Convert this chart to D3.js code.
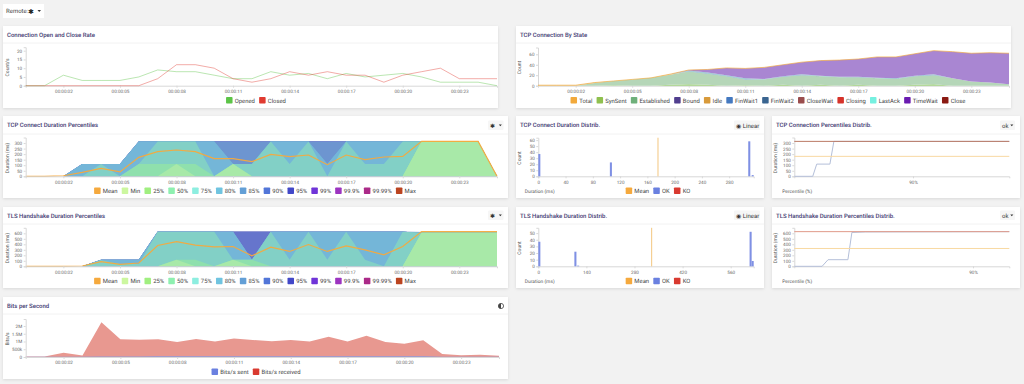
<!DOCTYPE html>
<html>
<head>
<meta charset="utf-8">
<script src="https://cdnjs.cloudflare.com/ajax/libs/d3/7.8.5/d3.min.js"></script>
<style>
html, body { margin: 0; padding: 0; background: #f2f2f2; overflow: hidden; }
text { font-family: Roboto, "Noto Sans", sans-serif; text-rendering: geometricPrecision; }
</style>
</head>
<body>
<svg id="chart" width="1024" height="384"></svg>
<script>
// time axis
const seconds = d3.range(0, 26);
const timeTicks = [2, 5, 8, 11, 14, 17, 20, 23];
const timeLabels = ['00:00:02', '00:00:05', '00:00:08', '00:00:11', '00:00:14', '00:00:17', '00:00:20', '00:00:23'];

// connection rate
const opened = [0, 0, 6, 3, 3, 3, 5, 9, 8, 8, 6, 4, 4, 8, 6, 7, 4, 7, 5, 6, 7, 5, 2, 2, 2, 0];
const closed = [0, 0, 0, 0, 0, 0, 0, 4, 12, 12, 10, 4, 2, 4, 8, 6, 8, 6, 6, 2, 6, 8, 10, 4, 4, 4];

// tcp states
const stateNames = ['Total', 'SynSent', 'Established', 'Bound', 'Idle', 'FinWait1', 'FinWait2', 'CloseWait', 'Closing', 'LastAck', 'TimeWait', 'Close'];
const stateColors = ['#f2a93b', '#8fc04f', '#6fb07a', '#503e8e', '#d89a3a', '#4479c0', '#3a6590', '#9a4d4d', '#d6332a', '#76f0e0', '#6a1bb0', '#8a1a12'];
const stTotal = [1, 1, 1, 6, 9, 12, 15, 22, 30, 31, 34, 33, 35, 40, 45, 48, 49, 51, 55, 55, 61, 67, 65, 62, 63, 62];
const stSynSent = [0, 0, 0, 0, 1, 0, 0, 2, 3, 2, 0, 1, 0, 2, 0, 2, 0, 2, 0, 0, 2, 3, 0, 0, 0, 0];
const stEstablished = [0, 0, 0, 5, 8, 12, 15, 19, 24, 21, 18, 11, 12, 15, 20, 16, 16, 14, 14, 13, 16, 17, 14, 8, 6, 3];
const stIdle = [1, 1, 1, 1, 0, 0, 0, 1, 0, 0, 0, 0, 0, 0, 0, 0, 0, 0, 0, 0, 0, 0, 0, 0, 0, 0];
const stFinWait1 = [0, 0, 0, 0, 0, 0, 0, 0, 1, 1, 1, 1, 0, 1, 1, 0, 0, 1, 0, 0, 1, 1, 0, 0, 0, 0];
const stLastAck = [0, 0, 0, 0, 0, 0, 0, 0, 1, 1, 1, 1, 1, 0, 1, 1, 1, 0, 1, 1, 0, 1, 0, 0, 0, 0];
const stTimeWait = [0, 0, 0, 0, 0, 0, 0, 0, 1, 6, 14, 19, 22, 22, 23, 29, 32, 34, 40, 41, 42, 45, 51, 54, 57, 59];

// percentile legend + fills
const pctNames = ['Mean', 'Min', '25%', '50%', '75%', '80%', '85%', '90%', '95%', '99%', '99.9%', '99.99%', 'Max'];
const pctColors = ['#f5a93d', '#ccf7a0', '#a0ef80', '#8ef0b0', '#8deee0', '#70c4e0', '#639fd6', '#5276d8', '#4248c8', '#6f34d8', '#9c34c0', '#ab2a88', '#bb4420'];
const pctFills = ['#f5a93d', '#a8e9a8', '#a8e9a8', '#8fe0ad', '#82d0c6', '#74b6d8', '#74b6d8', '#6d95d0', '#6675cc', '#7a78cc', '#8f86cc', '#a89ad0', '#c9d6ea'];

// tcp connect duration percentiles
const tcpMean = [0, 0, 5, 35, 72, 40, 171, 222, 237, 222, 159, 159, 132, 198, 177, 192, 105, 192, 150, 174, 180, 315, 315, 315, 315, 0];
const tcpMin = [0, 0, 0, 0, 0, 0, 0, 0, 0, 0, 0, 0, 0, 0, 0, 0, 0, 0, 0, 0, 0, 315, 315, 315, 315, 0];
const tcp25 = [0, 0, 0, 0, 0, 0, 0, 0, 110, 0, 0, 110, 0, 0, 0, 0, 0, 0, 0, 0, 0, 315, 315, 315, 315, 0];
const tcp50 = [0, 0, 0, 0, 0, 0, 110, 110, 110, 110, 0, 110, 0, 0, 0, 0, 0, 0, 0, 0, 0, 315, 315, 315, 315, 0];
const tcp75 = [0, 0, 0, 0, 110, 0, 110, 315, 315, 315, 0, 110, 110, 315, 110, 315, 0, 315, 110, 110, 315, 315, 315, 315, 315, 0];
const tcp80 = [0, 0, 0, 110, 110, 110, 315, 315, 315, 315, 315, 110, 110, 315, 315, 315, 110, 315, 315, 315, 315, 315, 315, 315, 315, 0];
const tcp85 = [0, 0, 0, 110, 110, 110, 315, 315, 315, 315, 315, 110, 110, 315, 315, 315, 110, 315, 315, 315, 315, 315, 315, 315, 315, 0];
const tcp90 = [0, 0, 0, 110, 110, 110, 315, 315, 315, 315, 315, 315, 315, 315, 315, 315, 315, 315, 315, 315, 315, 315, 315, 315, 315, 0];
const tcp95 = tcp90, tcp99 = tcp90, tcp999 = tcp90, tcp9999 = tcp90;
const tcpMax = [0, 0, 0, 110, 110, 110, 318, 318, 318, 318, 318, 318, 318, 318, 318, 318, 318, 318, 318, 318, 318, 315, 315, 315, 315, 0];

// tls handshake duration percentiles
const tlsMean = [0, 0, 0, 5, 84, 36, 60, 378, 450, 384, 354, 360, 192, 348, 270, 396, 270, 372, 300, 210, 360, 630, 630, 630, 630, 630];
const tlsMin = [0, 0, 0, 0, 0, 0, 0, 0, 0, 0, 0, 0, 0, 0, 0, 0, 0, 0, 0, 0, 0, 610, 610, 610, 610, 610];
const tls25 = [0, 0, 0, 0, 0, 0, 0, 0, 120, 0, 0, 120, 0, 0, 0, 0, 0, 0, 0, 0, 0, 610, 610, 610, 610, 610];
const tls50 = [0, 0, 0, 0, 0, 0, 0, 0, 120, 120, 0, 120, 120, 0, 0, 0, 0, 0, 0, 0, 0, 610, 610, 610, 610, 610];
const tls75 = [0, 0, 0, 0, 110, 40, 40, 630, 630, 630, 630, 120, 120, 630, 120, 630, 120, 630, 120, 0, 630, 610, 610, 610, 610, 610];
const tls80 = [0, 0, 0, 0, 120, 120, 120, 630, 630, 630, 630, 630, 120, 630, 630, 630, 630, 630, 630, 630, 630, 610, 610, 610, 610, 610];
const tls85 = tls80, tls90 = tls80;
const tls95 = [0, 0, 0, 0, 120, 120, 120, 630, 630, 630, 630, 630, 630, 630, 630, 630, 630, 630, 630, 630, 630, 610, 610, 610, 610, 610];
const tls99 = tls95, tls999 = tls95, tls9999 = tls95;
const tlsMax = [0, 0, 0, 0, 120, 120, 120, 640, 640, 640, 640, 640, 640, 640, 640, 640, 640, 640, 640, 640, 640, 630, 630, 630, 630, 630];

// duration histograms
const tcpBinStart = [0, 105, 308, 313];
const tcpBinCount = [37, 23, 58, 2];
const tcpMeanDuration = 175;
const tcpBarTop = 64;
const tlsBinStart = [0, 105, 113, 615, 621];
const tlsBinCount = [37, 22, 1, 52, 8];
const tlsMeanDuration = 329;
const tlsBarTop = 58;

// percentile distribution lines
const tcpDistPct = [0, 14, 17, 27, 30, 100];
const tcpDistOk = [0, 0, 110, 110, 315, 315];
const tlsDistPct = [0, 14, 17, 27, 29, 36, 100];
const tlsDistOk = [0, 0, 120, 120, 615, 625, 630];

// bits per second
const bitsReceived = [0.03, 0.03, 0.27, 0.1, 2.24, 1.15, 1.12, 1.15, 0.97, 1.16, 1.0, 1.2, 1.1, 1.02, 1.1, 1.0, 1.3, 1.0, 1.37, 0.97, 0.85, 1.08, 0.2, 0.12, 0.15, 0.08];
const bitsSent = [0.01, 0.01, 0.02, 0.01, 0.04, 0.04, 0.04, 0.05, 0.05, 0.05, 0.05, 0.05, 0.05, 0.05, 0.05, 0.05, 0.05, 0.05, 0.05, 0.05, 0.05, 0.05, 0.02, 0.02, 0.02, 0.01];

const svg = d3.select('#chart');

const addPanel = (x0, x1, y0, y1, title, headerH) => {
    const g = svg.append('g');
    g.append('rect').attr('x', x0).attr('y', y0).attr('width', x1 - x0).attr('height', y1 - y0)
        .attr('fill', '#fff').style('filter', 'drop-shadow(0 1px 1.5px rgba(0,0,0,0.10))');
    g.append('line').attr('x1', x0).attr('x2', x1).attr('y1', y0 + headerH).attr('y2', y0 + headerH).attr('stroke', '#f2f2f2');
    g.append('text').attr('x', x0 + 4).attr('y', y0 + headerH / 2 + 2.2).text(title)
        .attr('font-size', 6).attr('font-weight', 500).attr('fill', '#3f3a72');
    return g;
};

const styleAxis = (axisG, size) => {
    axisG.select('.domain').attr('stroke', '#d8d8d8');
    axisG.selectAll('.tick line').attr('stroke', '#d8d8d8');
    axisG.selectAll('.tick text').attr('fill', '#666').attr('font-size', size || 4.6).style('font-family', 'Roboto, "Noto Sans", sans-serif');
};

const drawAxes = (g, x, y, xTicks, xFormat, yTicks, yFormat, yTitle) => {
    const [y0, yTop] = y.range();
    const ax = g.append('g').attr('transform', `translate(0,${y0})`)
        .call(d3.axisBottom(x).tickValues(xTicks).tickFormat(xFormat).tickSize(2).tickPadding(2));
    styleAxis(ax);
    const ay = g.append('g').attr('transform', `translate(${x.range()[0]},0)`)
        .call(d3.axisLeft(y).tickValues(yTicks).tickFormat(yFormat).tickSize(2).tickPadding(1.5));
    styleAxis(ay);
    g.append('text').attr('transform', `translate(${x.range()[0] - 17},${(y0 + yTop) / 2 + 1}) rotate(-90)`)
        .attr('text-anchor', 'middle').attr('font-size', 5).attr('fill', '#555').text(yTitle);
};

const drawLegend = (g, names, colors, cx, cy) => {
    const box = 6.5, pad = 2.2, gap = 4.2;
    const lg = g.append('g');
    let pos = 0;
    names.forEach((name, i) => {
        lg.append('rect').attr('x', pos).attr('y', cy - box / 2).attr('width', box).attr('height', box)
            .attr('rx', 0.8).attr('fill', colors[i]);
        const t = lg.append('text').attr('x', pos + box + pad).attr('y', cy + 2.2)
            .attr('font-size', 5.9).attr('fill', '#444').text(name);
        pos += box + pad + t.node().getComputedTextLength() + gap;
    });
    lg.attr('transform', `translate(${cx - (pos - gap) / 2},0)`);
};

// small dropdown-like button in the panel header
const drawButton = (g, x0, x1, cy, label, caret) => {
    g.append('rect').attr('x', x0).attr('y', cy - 4.7).attr('width', x1 - x0).attr('height', 9.4).attr('rx', 1).attr('fill', '#f6f6f6');
    g.append('text').attr('x', x0 + 2).attr('y', cy + 2.2).attr('font-size', 6).attr('fill', '#333').text(label);
    if (caret) {
        const cxp = x1 - 3.2;
        g.append('path').attr('d', d3.line()([[cxp - 1.5, cy - 0.8], [cxp + 1.5, cy - 0.8], [cxp, cy + 1]])).attr('fill', '#333');
    }
};

const timeFormat = d => timeLabels[timeTicks.indexOf(d)];

const timeScale = (x0, x1) => d3.scaleLinear().domain([0, 25]).range([x0, x1]);

const drawLines = (g, x, y, series, colors, opacity, width) => {
    series.forEach((values, i) => {
        const line = d3.line().x((d, j) => x(seconds[j])).y(d => y(d));
        g.append('path').attr('d', line(values)).attr('fill', 'none').attr('stroke', colors[i])
            .attr('stroke-width', width || 1).attr('stroke-opacity', opacity);
    });
};

// Panel 1: open / close rate
{
    const g = addPanel(3, 498, 26, 108, 'Connection Open and Close Rate', 17);
    const x = timeScale(25.7, 497);
    const y = d3.scaleLinear().domain([0, 22]).range([85.7, 47.2]);
    drawAxes(g, x, y, timeTicks, timeFormat, [0, 5, 10, 15, 20], d3.format('d'), 'Count/s');
    drawLines(g, x, y, [opened, closed], ['#5cc447', '#e03a30'], 0.42);
    drawLegend(g, ['Opened', 'Closed'], ['#5cc447', '#e03a30'], 256, 100.3);
}

// Panel 2: tcp by state
{
    const g = addPanel(516, 1011, 26, 108, 'TCP Connection By State', 17);
    const x = timeScale(538, 1009);
    const y = d3.scaleLinear().domain([0, 73]).range([85.7, 47.5]);
    drawAxes(g, x, y, timeTicks, timeFormat, [0, 20, 40, 60], d3.format('d'), 'Count');
    const zeros = seconds.map(() => 0);
    const layers = [stSynSent, stEstablished, zeros, stIdle, stFinWait1, zeros, zeros, zeros, stLastAck, stTimeWait, zeros];
    const fills = ['#9fd07e', '#b5d6b8', '#503e8e', '#e6c48a', '#7aa8d0', '#3a6590', '#9a4d4d', '#d6332a', '#8cc8c8', '#a986d2', '#8a1a12'];
    const rows = seconds.map((s, i) => layers.map(l => l[i]));
    const stacked = d3.stack().keys(d3.range(layers.length))(rows);
    const area = d3.area().x((d, i) => x(seconds[i])).y0(d => y(d[0])).y1(d => y(d[1]));
    stacked.forEach((s, k) => {
        g.append('path').attr('d', area(s)).attr('fill', fills[k]);
    });
    drawLines(g, x, y, [stTotal], ['#f2a93b'], 0.65);
    drawLegend(g, stateNames, stateColors, 768, 100.3);
}

const drawPercentiles = (g, x, y, meanValues, layers) => {
    const area = d3.area().x((d, i) => x(seconds[i])).y0(y(0)).y1(d => y(d));
    // highest percentile first so lower ones paint over it
    layers.slice().reverse().forEach((values, k) => {
        g.append('path').attr('d', area(values)).attr('fill', pctFills[layers.length - k]);
    });
    drawLines(g, x, y, [meanValues], [pctColors[0]], 0.95, 1.2);
};

// Panel 3: tcp connect percentiles
{
    const g = addPanel(3, 508, 116, 198, 'TCP Connect Duration Percentiles', 18);
    const x = timeScale(25.7, 497);
    const y = d3.scaleLinear().domain([0, 350]).range([176.3, 137.5]);
    drawPercentiles(g, x, y, tcpMean, [tcpMin, tcp25, tcp50, tcp75, tcp80, tcp85, tcp90, tcp95, tcp99, tcp999, tcp9999, tcpMax]);
    drawAxes(g, x, y, timeTicks, timeFormat, d3.range(0, 301, 50), d3.format('d'), 'Duration (ms)');
    drawLegend(g, pctNames, pctColors, 255, 190.7);
    drawButton(g, 488, 503.5, 125.3, '✱', true);
}

// Panel 4: tls handshake percentiles
{
    const g = addPanel(3, 508, 207, 288, 'TLS Handshake Duration Percentiles', 17);
    const x = timeScale(25.7, 497);
    const y = d3.scaleLinear().domain([0, 700]).range([266.3, 227.8]);
    drawPercentiles(g, x, y, tlsMean, [tlsMin, tls25, tls50, tls75, tls80, tls85, tls90, tls95, tls99, tls999, tls9999, tlsMax]);
    drawAxes(g, x, y, timeTicks, timeFormat, d3.range(0, 601, 100), d3.format('d'), 'Duration (ms)');
    drawLegend(g, pctNames, pctColors, 255, 281);
    drawButton(g, 488, 503.5, 215.3, '✱', true);
}

const drawHistogram = (g, x, y, starts, counts, meanValue, barTop, binWidth, xTicks, yTicks, legendY) => {
    drawAxes(g, x, y, xTicks, d3.format('d'), yTicks, d3.format('d'), 'Count');
    const [y0] = y.range();
    g.selectAll(null).data(starts).enter().append('rect')
        .attr('x', d => x(d)).attr('width', d => x(d + binWidth) - x(d))
        .attr('y', (d, i) => y(counts[i])).attr('height', (d, i) => y0 - y(counts[i]))
        .attr('fill', '#7f90e4');
    g.append('rect').attr('x', x(meanValue)).attr('width', 0.8).attr('y', y(barTop)).attr('height', y0 - y(barTop))
        .attr('fill', '#f0b860');
    g.append('text').attr('x', x.range()[0] - 13.5).attr('y', legendY + 2).attr('font-size', 4.9).attr('fill', '#555').text('Duration (ms)');
    drawLegend(g, ['Mean', 'OK', 'KO'], ['#f5a93d', '#6a80e0', '#d93a30'], 658, legendY);
};

// Panel 5: tcp connect histogram
{
    const g = addPanel(516, 764, 116, 198, 'TCP Connect Duration Distrib.', 18);
    const x = d3.scaleLinear().domain([0, 316]).range([538.3, 753.7]);
    const y = d3.scaleLinear().domain([0, 64]).range([176.3, 137.7]);
    drawHistogram(g, x, y, tcpBinStart, tcpBinCount, tcpMeanDuration, tcpBarTop, 3, [0, 40, 80, 120, 160, 200, 240, 280], d3.range(0, 61, 10), 190.7);
    drawButton(g, 734, 760, 125.3, '◉ Linear', false);
}

// Panel 6: tls histogram
{
    const g = addPanel(516, 764, 207, 288, 'TLS Handshake Duration Distrib.', 17);
    const x = d3.scaleLinear().domain([0, 627]).range([538.3, 753.7]);
    const y = d3.scaleLinear().domain([0, 58]).range([266.3, 227.8]);
    drawHistogram(g, x, y, tlsBinStart, tlsBinCount, tlsMeanDuration, tlsBarTop, 6, [0, 140, 280, 420, 560], d3.range(0, 51, 10), 281);
    drawButton(g, 734, 760, 215.3, '◉ Linear', false);
}

const drawDist = (g, x, y, pct, ok, meanValue, maxValue, yTicks, legendY, maxColor) => {
    drawAxes(g, x, y, [90], d => d + '%', yTicks, d3.format('d'), 'Duration (ms)');
    const line = d3.line().x((d, i) => x(pct[i])).y(d => y(d));
    g.append('path').attr('d', line(ok)).attr('fill', 'none').attr('stroke', '#b4bfd9').attr('stroke-width', 1);
    const domain = x.domain();
    const flat = v => d3.line().x(d => x(d)).y(() => y(v))([domain[0], domain[domain.length - 1]]);
    g.append('path').attr('d', flat(meanValue)).attr('fill', 'none').attr('stroke', '#f8d9a2').attr('stroke-width', 1);
    g.append('path').attr('d', flat(maxValue)).attr('fill', 'none').attr('stroke', maxColor).attr('stroke-width', 1);
    g.append('text').attr('x', x.range()[0] - 12).attr('y', legendY + 2).attr('font-size', 4.9).attr('fill', '#555').text('Percentile (%)');
};

// Panel 7: tcp percentile distribution
{
    const g = addPanel(772, 1020, 116, 198, 'TCP Connection Percentiles Distrib.', 18);
    const x = d3.scaleLinear().domain([0, 90, 100]).range([794.3, 913, 1009.3]);
    const y = d3.scaleLinear().domain([0, 350]).range([176.3, 137.5]);
    drawDist(g, x, y, tcpDistPct, tcpDistOk, 180, 315, d3.range(0, 301, 50), 190.7, '#bb7a66');
    drawButton(g, 1000, 1015, 125.3, 'ok', true);
}

// Panel 8: tls percentile distribution
{
    const g = addPanel(772, 1020, 207, 288, 'TLS Handshake Duration Percentiles Distrib.', 17);
    const x = d3.scaleLinear().domain([0, 90, 100]).range([794.3, 973, 1009.3]);
    const y = d3.scaleLinear().domain([0, 700]).range([266.3, 227.8]);
    drawDist(g, x, y, tlsDistPct, tlsDistOk, 324, 630, d3.range(0, 601, 100), 281, '#e09a8a');
    drawButton(g, 1000, 1015, 215.3, 'ok', true);
}

// Panel 9: bits per second
{
    const g = addPanel(3, 508, 297, 379, 'Bits per Second', 17);
    const x = timeScale(25.7, 499);
    const y = d3.scaleLinear().domain([0, 2.45]).range([357, 319]);
    const area = d3.area().x((d, i) => x(seconds[i])).y0(y(0)).y1(d => y(d));
    g.append('path').attr('d', area(bitsReceived)).attr('fill', '#e89890');
    g.append('path').attr('d', area(bitsSent)).attr('fill', '#8a9ae0');
    const bitFormat = d => d === 0 ? '0' : (d < 1 ? '500k' : d + 'M');
    drawAxes(g, x, y, timeTicks, timeFormat, [0, 0.5, 1, 1.5, 2], bitFormat, 'Bits/s');
    drawLegend(g, ['Bits/s sent', 'Bits/s received'], ['#6a80e0', '#d93a30'], 256, 371.7);
    g.append('circle').attr('cx', 501).attr('cy', 306).attr('r', 2.6).attr('fill', 'none').attr('stroke', '#444').attr('stroke-width', 0.8);
    g.append('path').attr('d', d3.arc()({innerRadius: 0, outerRadius: 2.6, startAngle: Math.PI, endAngle: 2 * Math.PI}))
        .attr('transform', 'translate(501,306)').attr('fill', '#444');
}

// Remote filter at the top
{
    svg.append('rect').attr('x', 3).attr('y', 4).attr('width', 41).attr('height', 14).attr('fill', '#fff');
    svg.append('text').attr('x', 6).attr('y', 13).attr('font-size', 6).attr('fill', '#444').text('Remote:');
    svg.append('text').attr('x', 28).attr('y', 13.5).attr('font-size', 7).attr('fill', '#222').text('✱');
    svg.append('path').attr('d', d3.line()([[37.5, 10], [41, 10], [39.2, 12]])).attr('fill', '#333');
}
</script>
</body>
</html>
